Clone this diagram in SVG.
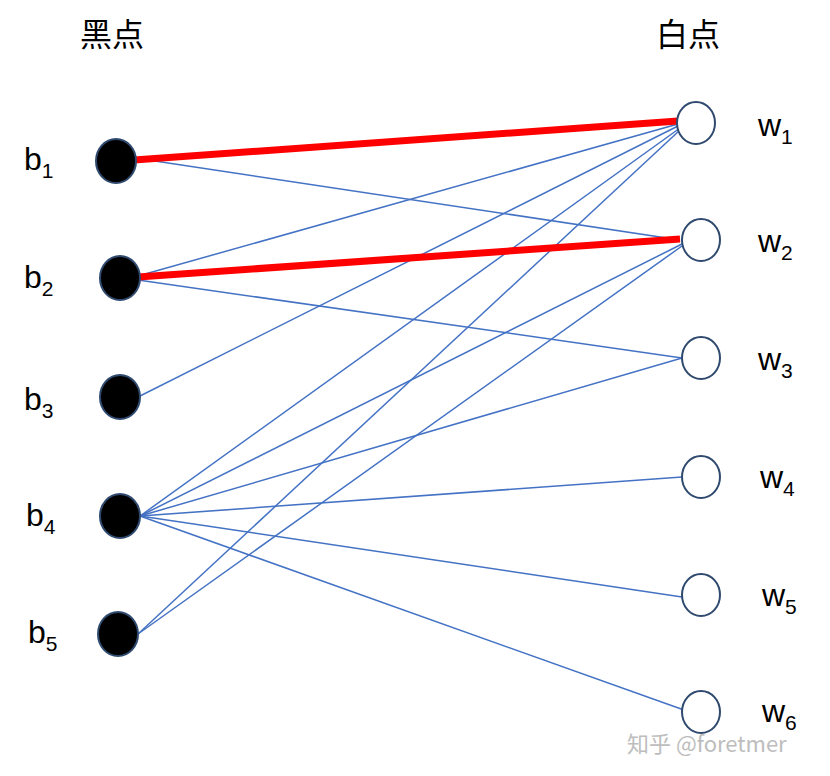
<svg xmlns="http://www.w3.org/2000/svg" width="830" height="776" viewBox="0 0 830 776">
<style>
.b{fill:#000;stroke:#2F4A6E;stroke-width:2}
.w{fill:#fff;stroke:#2F4A6E;stroke-width:2}
.e{stroke:#4472C4;stroke-width:1.5;fill:none}
.r{stroke:#FF0000;stroke-width:7;fill:none}
.t{font-family:"Liberation Sans",Arial,sans-serif;font-size:32px;fill:#000}
.s{font-size:21px}
.h{font-family:"Noto Sans CJK SC",sans-serif;font-size:32px;fill:#000}
</style>
<rect width="830" height="776" fill="#fff"/>
<text class="h" x="80" y="46">黑点</text>
<text class="h" x="656" y="46">白点</text>
<g id="edges">
<line class="e" x1="135" y1="158" x2="680" y2="240"/>
<line class="e" x1="138" y1="276" x2="678" y2="124"/>
<line class="e" x1="138" y1="280" x2="682" y2="358"/>
<line class="e" x1="138" y1="397" x2="678" y2="126"/>
<line class="e" x1="140" y1="516" x2="680" y2="128"/>
<line class="e" x1="140" y1="516" x2="682" y2="244"/>
<line class="e" x1="140" y1="516" x2="682" y2="358"/>
<line class="e" x1="140" y1="516" x2="682" y2="477"/>
<line class="e" x1="140" y1="516" x2="682" y2="597"/>
<line class="e" x1="140" y1="516" x2="684" y2="710"/>
<line class="e" x1="138" y1="634" x2="680" y2="130"/>
<line class="e" x1="138" y1="634" x2="682" y2="246"/>
<line class="r" x1="134" y1="160" x2="678" y2="121"/>
<line class="r" x1="138" y1="277" x2="680" y2="239"/>
</g>
<g id="b1"><ellipse class="b" cx="116" cy="161" rx="20" ry="22"/><text class="t" x="24" y="170">b<tspan class="s" dy="8">1</tspan></text></g>
<g id="b2"><ellipse class="b" cx="120" cy="278" rx="20" ry="22"/><text class="t" x="24" y="288">b<tspan class="s" dy="8">2</tspan></text></g>
<g id="b3"><ellipse class="b" cx="120" cy="397" rx="20" ry="22"/><text class="t" x="24" y="410">b<tspan class="s" dy="8">3</tspan></text></g>
<g id="b4"><ellipse class="b" cx="120" cy="516" rx="20" ry="22"/><text class="t" x="26" y="526">b<tspan class="s" dy="8">4</tspan></text></g>
<g id="b5"><ellipse class="b" cx="118" cy="634" rx="20" ry="22"/><text class="t" x="28" y="643">b<tspan class="s" dy="8">5</tspan></text></g>
<g id="w1"><ellipse class="w" cx="696" cy="123" rx="19" ry="21"/><text class="t" x="758" y="136">w<tspan class="s" dy="8">1</tspan></text></g>
<g id="w2"><ellipse class="w" cx="701" cy="240" rx="19" ry="21"/><text class="t" x="758" y="252">w<tspan class="s" dy="8">2</tspan></text></g>
<g id="w3"><ellipse class="w" cx="701" cy="358" rx="19" ry="21"/><text class="t" x="758" y="370">w<tspan class="s" dy="8">3</tspan></text></g>
<g id="w4"><ellipse class="w" cx="701" cy="477" rx="19" ry="21"/><text class="t" x="760" y="488">w<tspan class="s" dy="8">4</tspan></text></g>
<g id="w5"><ellipse class="w" cx="701" cy="595" rx="19" ry="21"/><text class="t" x="762" y="606">w<tspan class="s" dy="8">5</tspan></text></g>
<g id="w6"><ellipse class="w" cx="701" cy="712" rx="19" ry="21"/><text class="t" x="762" y="722">w<tspan class="s" dy="8">6</tspan></text></g>
<text x="627" y="752" font-family="'Noto Sans CJK SC',sans-serif" font-size="22" fill="#BDBDBD">知乎 @foretmer</text>
</svg>
